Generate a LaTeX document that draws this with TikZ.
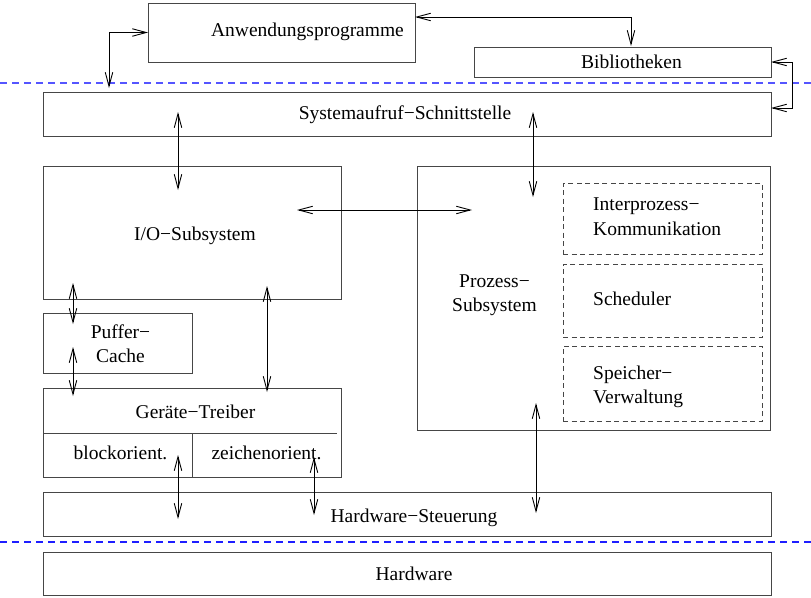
\documentclass[tikz,border=0pt]{standalone}
\usepackage{fontspec}
\setmainfont{Liberation Serif}
\usetikzlibrary{arrows.meta}
\definecolor{boxcol}{RGB}{70,70,70}
\definecolor{bluetop}{RGB}{85,85,255}
\definecolor{bluebot}{RGB}{30,30,255}
\begin{document}
\begin{tikzpicture}[x=1pt,y=-1pt,
  font=\fontsize{19.5}{23.5}\selectfont,
  box/.style={draw=boxcol,line width=0.9pt,inner sep=0pt,outer sep=0pt,anchor=north west},
  dbox/.style={box,dash pattern=on 5pt off 3.5pt},
  txt/.style={inner sep=0pt,anchor=base},
  ltxt/.style={inner sep=0pt,anchor=base west},
  arr/.style={line width=0.9pt,black,{Straight Barb[length=14pt,width=7.5pt]}-{Straight Barb[length=14pt,width=7.5pt]}},
  sep/.style={line width=1.1pt,dash pattern=on 7pt off 5pt}]
\useasboundingbox (0,0) rectangle (811,597);

% boxes
\node[box,minimum width=267pt,minimum height=59pt] (anw) at (148,3) {};
\node[box,minimum width=297pt,minimum height=30pt] (bib) at (474,47) {};
\node[box,minimum width=728pt,minimum height=44pt] (sys) at (43,92) {};
\node[box,minimum width=298pt,minimum height=133pt] (io) at (43,166) {};
\node[box,minimum width=353pt,minimum height=264pt] (proz) at (417,166) {};
\node[dbox,minimum width=199pt,minimum height=71pt] (ipk) at (563,183) {};
\node[dbox,minimum width=199pt,minimum height=73pt] (sched) at (563,264) {};
\node[dbox,minimum width=199pt,minimum height=75pt] (speich) at (563,346) {};
\node[box,minimum width=149pt,minimum height=60pt] (puf) at (43,313) {};
\node[box,minimum width=298pt,minimum height=89pt] (treib) at (43,388) {};
\node[box,minimum width=728pt,minimum height=44pt] (hws) at (43,492) {};
\node[box,minimum width=728pt,minimum height=43pt] (hw) at (43,552) {};

% driver box dividers
\coordinate (dl) at (43,433);
\coordinate (dr) at (337,433);
\coordinate (dv) at (192,433);
\draw[draw=boxcol,line width=0.9pt] (dl) -- (dr);
\draw[draw=boxcol,line width=0.9pt] (dv) -- (dv |- treib.south);

% separator lines
\coordinate (s1l) at (0,83);   \coordinate (s1r) at (811,83);
\coordinate (s2l) at (0,542);  \coordinate (s2r) at (811,542);
\draw[sep,bluetop] (s1l) -- (s1r);
\draw[sep,bluebot] (s2l) -- (s2r);

% texts
\node[txt] (tanw) at (307.5,36) {Anwendungsprogramme};
\node[txt] (tbib) at (631.5,68) {Bibliotheken};
\node[txt] (tsys) at (405,119) {Systemaufruf−Schnittstelle};
\node[txt] (tio) at (195,240) {I/O−Subsystem};
\node[txt] (tproz1) at (494.5,287) {Prozess−};
\node[txt] (tproz2) at (494.5,311) {Subsystem};
\node[ltxt] (tipk1) at (593,210) {Interprozess−};
\node[ltxt] (tipk2) at (593,235) {Kommunikation};
\node[ltxt] (tsched) at (593,305) {Scheduler};
\node[ltxt] (tsp1) at (593,379) {Speicher−};
\node[ltxt] (tsp2) at (593,403) {Verwaltung};
\node[txt] (tpuf1) at (120.5,338) {Puffer−};
\node[txt] (tpuf2) at (120.5,362) {Cache};
\node[txt] (ttreib) at (195.5,418) {Geräte−Treiber};
\node[txt] (tblock) at (120.5,459) {blockorient.};
\node[txt] (tzeich) at (266.5,459) {zeichenorient.};
\node[txt] (thws) at (414,522) {Hardware−Steuerung};
\node[txt] (thw) at (414,580) {Hardware};

% connector end points
\coordinate (a1b) at (109,88);
\coordinate (a2a) at (415,17);  \coordinate (a2b) at (631,46);
\coordinate (a3a) at (771,62);  \coordinate (a3m) at (792,62); \coordinate (a3b) at (771,108);
\coordinate (a4a) at (178,112); \coordinate (a4b) at (178,190);
\coordinate (a5a) at (533,112); \coordinate (a5b) at (533,197);
\coordinate (a6a) at (297,210); \coordinate (a6b) at (472,210);
\coordinate (a7a) at (73,283);  \coordinate (a7b) at (73,324);
\coordinate (a8a) at (73,347);  \coordinate (a8b) at (73,396);
\coordinate (a9a) at (267,286); \coordinate (a9b) at (267,392);
\coordinate (a10a) at (178,455); \coordinate (a10b) at (178,519);
\coordinate (a11a) at (314,457); \coordinate (a11b) at (314,515);
\coordinate (a12a) at (536,403); \coordinate (a12b) at (536,513);

% connectors
\draw[arr] (anw.west) -| (a1b);
\draw[arr] (a2a) -| (a2b);
\draw[arr] (a3a) -- (a3m) |- (a3b);
\draw[arr] (a4a) -- (a4b);
\draw[arr] (a5a) -- (a5b);
\draw[arr] (a6a) -- (a6b);
\draw[arr] (a7a) -- (a7b);
\draw[arr] (a8a) -- (a8b);
\draw[arr] (a9a) -- (a9b);
\draw[arr] (a10a) -- (a10b);
\draw[arr] (a11a) -- (a11b);
\draw[arr] (a12a) -- (a12b);
\end{tikzpicture}
\end{document}
